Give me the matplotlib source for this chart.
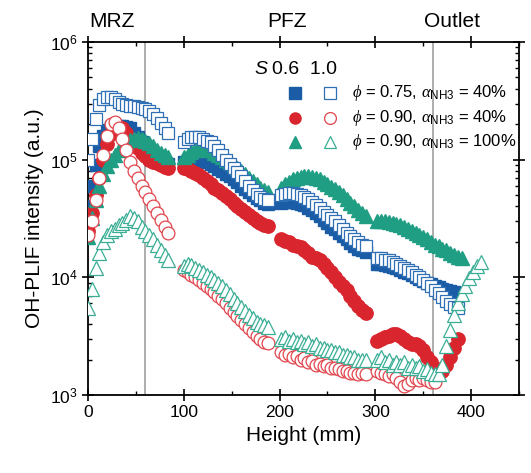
import matplotlib
matplotlib.use("Agg")
import matplotlib.pyplot as plt
from matplotlib.ticker import LogLocator, MultipleLocator, NullFormatter

plt.rcParams['font.family'] = ['Liberation Sans', 'DejaVu Sans']
plt.rcParams['mathtext.fontset'] = 'custom'
plt.rcParams['mathtext.rm'] = 'Liberation Sans'
plt.rcParams['mathtext.it'] = 'Liberation Serif:italic'

# ---------------- data (Height mm, OH-PLIF intensity a.u.) ----------------
# Segment 1 (MRZ window)
h1 = [0, 4, 8, 12, 16, 20, 24, 28, 32, 36, 40, 44, 48, 52, 56, 60, 64, 68, 72, 76, 80, 84]
b06_1 = [4.0e4, 6.0e4, 9.0e4, 1.3e5, 1.6e5, 1.8e5, 1.9e5, 1.95e5, 1.95e5, 1.95e5, 1.9e5, 1.85e5,
         1.7e5, 1.55e5, 1.4e5, 1.3e5, 1.2e5, 1.12e5, 1.05e5, 1.0e5, 9.5e4, 9.2e4]
b10_1 = [1.0e5, 1.5e5, 2.2e5, 2.9e5, 3.3e5, 3.4e5, 3.4e5, 3.3e5, 3.1e5, 2.95e5, 2.9e5, 2.85e5,
         2.85e5, 2.8e5, 2.75e5, 2.7e5, 2.6e5, 2.45e5, 2.25e5, 2.05e5, 1.85e5, 1.7e5]
r06_1 = [2.5e4, 3.5e4, 5.0e4, 7.0e4, 1.0e5, 1.35e5, 1.65e5, 1.85e5, 1.9e5, 1.85e5, 1.7e5, 1.5e5,
         1.35e5, 1.25e5, 1.15e5, 1.08e5, 1.0e5, 9.6e4, 9.3e4, 9.0e4, 8.7e4, 8.5e4]
r10_1 = [2.3e4, 3.0e4, 4.5e4, 7.0e4, 1.1e5, 1.6e5, 2.0e5, 2.1e5, 1.85e5, 1.5e5, 1.2e5, 9.5e4,
         8.0e4, 7.0e4, 6.0e4, 5.3e4, 4.6e4, 4.0e4, 3.5e4, 3.1e4, 2.7e4, 2.4e4]
g06_1 = [2.2e4, 3.2e4, 4.5e4, 6.0e4, 7.5e4, 8.8e4, 1.0e5, 1.1e5, 1.2e5, 1.3e5, 1.4e5, 1.47e5,
         1.5e5, 1.52e5, 1.5e5, 1.45e5, 1.38e5, 1.3e5, 1.22e5, 1.15e5, 1.1e5, 1.05e5]
g10_1 = [5.5e3, 8.0e3, 1.2e4, 1.6e4, 2.0e4, 2.3e4, 2.5e4, 2.6e4, 2.8e4, 2.9e4, 3.1e4, 3.3e4,
         3.2e4, 3.0e4, 2.7e4, 2.5e4, 2.3e4, 2.1e4, 1.9e4, 1.7e4, 1.55e4, 1.4e4]

# Segment 2
h2 = [100, 104, 108, 112, 116, 120, 124, 128, 132, 136, 140, 144, 148, 152, 156, 160, 164, 168, 172, 176, 180, 184, 188]
b06_2 = [9.5e4, 1.0e5, 1.0e5, 1.0e5, 1.0e5, 9.8e4, 9.5e4, 9.2e4, 8.8e4, 8.4e4, 8.0e4, 7.6e4,
         7.2e4, 6.8e4, 6.4e4, 6.0e4, 5.6e4, 5.3e4, 5.0e4, 4.7e4, 4.5e4, 4.3e4, 4.2e4]
b10_2 = [1.4e5, 1.5e5, 1.55e5, 1.55e5, 1.55e5, 1.5e5, 1.45e5, 1.4e5, 1.3e5, 1.2e5, 1.1e5, 1.0e5,
         9.2e4, 8.5e4, 7.8e4, 7.2e4, 6.6e4, 6.0e4, 5.5e4, 5.1e4, 4.8e4, 4.6e4, 4.5e4]
r06_2 = [8.5e4, 8.3e4, 8.0e4, 7.7e4, 7.4e4, 7.0e4, 6.6e4, 6.2e4, 5.8e4, 5.5e4, 5.2e4, 4.9e4,
         4.6e4, 4.3e4, 4.0e4, 3.8e4, 3.6e4, 3.4e4, 3.2e4, 3.0e4, 2.9e4, 2.8e4, 2.75e4]
r10_2 = [1.15e4, 1.1e4, 1.05e4, 1.0e4, 9.5e3, 9.0e3, 8.5e3, 8.0e3, 7.5e3, 7.0e3, 6.5e3, 6.0e3,
         5.5e3, 5.1e3, 4.7e3, 4.3e3, 4.0e3, 3.7e3, 3.4e3, 3.2e3, 3.0e3, 2.8e3, 2.75e3]
g06_2 = [1.05e5, 1.1e5, 1.17e5, 1.22e5, 1.25e5, 1.25e5, 1.22e5, 1.2e5, 1.15e5, 1.1e5, 1.05e5, 1.0e5,
         9.5e4, 9.0e4, 8.5e4, 8.0e4, 7.5e4, 7.0e4, 6.6e4, 6.2e4, 5.8e4, 5.5e4, 5.3e4]
g10_2 = [1.25e4, 1.3e4, 1.28e4, 1.2e4, 1.15e4, 1.1e4, 1.05e4, 1.0e4, 9.5e3, 9.0e3, 8.4e3, 7.8e3,
         7.2e3, 6.6e3, 6.1e3, 5.6e3, 5.2e3, 4.8e3, 4.5e3, 4.2e3, 4.0e3, 3.9e3, 3.8e3]

# Segment 3
h3 = [202, 206, 210, 214, 218, 222, 226, 230, 234, 238, 242, 246, 250, 254, 258, 262, 266, 270, 274, 278, 282, 286, 290]
b06_3 = [4.3e4, 4.4e4, 4.4e4, 4.4e4, 4.3e4, 4.2e4, 4.1e4, 3.9e4, 3.7e4, 3.5e4, 3.3e4, 3.1e4,
         2.9e4, 2.7e4, 2.55e4, 2.4e4, 2.25e4, 2.1e4, 1.95e4, 1.85e4, 1.75e4, 1.7e4, 1.65e4]
b10_3 = [5.0e4, 5.1e4, 5.2e4, 5.2e4, 5.1e4, 5.0e4, 4.8e4, 4.6e4, 4.4e4, 4.1e4, 3.9e4, 3.6e4,
         3.4e4, 3.2e4, 3.0e4, 2.8e4, 2.6e4, 2.4e4, 2.25e4, 2.1e4, 2.0e4, 1.9e4, 1.85e4]
r06_3 = [2.1e4, 2.05e4, 2.0e4, 1.9e4, 1.85e4, 1.8e4, 1.7e4, 1.6e4, 1.5e4, 1.45e4, 1.4e4, 1.3e4,
         1.2e4, 1.1e4, 1.0e4, 9.2e3, 8.5e3, 7.8e3, 7.0e3, 6.3e3, 5.7e3, 5.3e3, 5.0e3]
r10_3 = [2.3e3, 2.2e3, 2.25e3, 2.1e3, 2.15e3, 2.0e3, 2.05e3, 1.9e3, 1.95e3, 1.8e3, 1.85e3, 1.75e3,
         1.8e3, 1.7e3, 1.7e3, 1.65e3, 1.6e3, 1.6e3, 1.55e3, 1.55e3, 1.5e3, 1.55e3, 1.5e3]
g06_3 = [5.8e4, 6.2e4, 6.5e4, 6.8e4, 7.0e4, 7.1e4, 7.2e4, 7.2e4, 7.1e4, 7.0e4, 6.8e4, 6.5e4,
         6.2e4, 5.9e4, 5.6e4, 5.3e4, 5.0e4, 4.6e4, 4.3e4, 4.0e4, 3.7e4, 3.5e4, 3.3e4]
g10_3 = [3.0e3, 3.1e3, 2.9e3, 3.0e3, 2.8e3, 2.9e3, 2.7e3, 2.8e3, 2.6e3, 2.7e3, 2.5e3, 2.5e3,
         2.4e3, 2.4e3, 2.3e3, 2.3e3, 2.2e3, 2.2e3, 2.1e3, 2.1e3, 2.0e3, 2.0e3, 2.0e3]

# Segment 4
h4 = [302, 306, 310, 314, 318, 322, 326, 330, 334, 338, 342, 346, 350, 354, 358, 362, 366, 370, 374, 378, 382, 386]
b06_4 = [1.3e4, 1.3e4, 1.28e4, 1.25e4, 1.22e4, 1.2e4, 1.15e4, 1.12e4, 1.08e4, 1.05e4, 1.0e4,
         9.7e3, 9.3e3, 9.0e3, 8.7e3, 8.4e3, 8.2e3, 8.0e3, 7.8e3, 7.6e3, 7.5e3, 7.4e3]
b10_4 = [1.45e4, 1.45e4, 1.4e4, 1.4e4, 1.35e4, 1.3e4, 1.25e4, 1.2e4, 1.15e4, 1.1e4, 1.05e4,
         1.0e4, 9.5e3, 9.0e3, 8.4e3, 7.8e3, 7.3e3, 6.8e3, 6.3e3, 5.9e3, 5.6e3, 5.5e3]
r06_4 = [2.9e3, 3.0e3, 3.1e3, 3.2e3, 3.3e3, 3.3e3, 3.2e3, 3.0e3, 2.8e3, 2.7e3, 2.7e3,
         2.6e3, 2.4e3, 2.1e3, 1.9e3, 1.7e3, 1.6e3, 1.6e3, 1.8e3, 2.1e3, 2.5e3, 3.0e3]
h4r = [302, 306, 310, 314, 318, 322, 326, 330, 334, 338, 342, 346, 350, 354, 358, 362]
r10_4 = [1.6e3, 1.55e3, 1.5e3, 1.45e3, 1.5e3, 1.4e3, 1.3e3, 1.2e3, 1.25e3, 1.35e3, 1.4e3,
         1.35e3, 1.4e3, 1.35e3, 1.3e3, 1.3e3]
h4g = [302, 306, 310, 314, 318, 322, 326, 330, 334, 338, 342, 346, 350, 354, 358, 362, 366, 370,
       374, 378, 382, 386, 390]
g06_4 = [3.0e4, 3.0e4, 3.0e4, 2.95e4, 2.9e4, 2.85e4, 2.8e4, 2.7e4, 2.6e4, 2.5e4, 2.4e4, 2.3e4,
         2.2e4, 2.1e4, 2.0e4, 1.9e4, 1.85e4, 1.75e4, 1.7e4, 1.6e4, 1.55e4, 1.5e4, 1.45e4]
h4t = [302, 306, 310, 314, 318, 322, 326, 330, 334, 338, 342, 346, 350, 354, 358, 362, 366, 370,
       374, 378, 382, 386, 390, 394, 398, 402, 406, 410]
g10_4 = [2.0e3, 2.1e3, 1.9e3, 2.0e3, 1.8e3, 1.9e3, 1.8e3, 1.9e3, 1.7e3, 1.8e3, 1.7e3, 1.75e3,
         1.6e3, 1.65e3, 1.55e3, 1.5e3, 1.5e3, 1.8e3, 2.6e3, 3.6e3, 4.8e3, 6.0e3, 7.2e3, 8.4e3,
         9.8e3, 1.12e4, 1.25e4, 1.35e4]

zone_lines = [60, 360]
zone_labels = ["MRZ", "PFZ", "Outlet"]
zone_label_x = [25, 208, 380]
legend_labels = [r"$\phi$ = 0.75, $\alpha_{\mathrm{NH3}}$ = 40%",
                 r"$\phi$ = 0.90, $\alpha_{\mathrm{NH3}}$ = 40%",
                 r"$\phi$ = 0.90, $\alpha_{\mathrm{NH3}}$ = 100%"]

# ---------------- styling ----------------
BLUE = "#1b5ca6"
BLUE_O = "#2f6fb5"
RED = "#d9252d"
RED_O = "#e0444c"
GREEN = "#1f9e83"
GREEN_O = "#3aae95"

fig = plt.figure(figsize=(5.31, 4.73), dpi=100)
ax = fig.add_axes([0.1657, 0.1649, 0.9774 - 0.1657, 0.9112 - 0.1649])

msf = 9.0
mso = 8.6
segs = [(h1, b06_1, b10_1, r06_1, r10_1, g06_1, g10_1, h1, h1, h1),
        (h2, b06_2, b10_2, r06_2, r10_2, g06_2, g10_2, h2, h2, h2),
        (h3, b06_3, b10_3, r06_3, r10_3, g06_3, g10_3, h3, h3, h3),
        (h4, b06_4, b10_4, r06_4, r10_4, g06_4, g10_4, h4r, h4g, h4t)]

for h, b06, b10, r06, r10, g06, g10, hr10, hg06, hg10 in segs:
    ax.plot(h, b06, 's', ms=msf, color=BLUE, mec=BLUE, zorder=3)
    ax.plot(h, r06, 'o', ms=msf + 0.6, color=RED, mec=RED, zorder=3)
    ax.plot(hg06, g06, '^', ms=msf + 0.8, color=GREEN, mec=GREEN, zorder=3)
    ax.plot(h, b10, 's', ms=mso, mfc='white', mec=BLUE_O, mew=0.9, zorder=4)
    ax.plot(hr10, r10, 'o', ms=mso + 0.6, mfc='white', mec=RED_O, mew=0.9, zorder=4)
    ax.plot(hg10, g10, '^', ms=mso + 0.8, mfc='white', mec=GREEN_O, mew=0.9, zorder=4)

for xv in zone_lines:
    ax.axvline(xv, color='#a0a0a0', lw=1.2, zorder=2)

ax.set_yscale('log')
ax.set_xlim(0, 450)
ax.set_ylim(1e3, 1e6)
ax.xaxis.set_major_locator(MultipleLocator(100))
ax.xaxis.set_minor_locator(MultipleLocator(50))
ax.yaxis.set_major_locator(LogLocator(base=10, numticks=10))
ax.yaxis.set_minor_locator(LogLocator(base=10, subs=range(2, 10), numticks=20))
ax.yaxis.set_minor_formatter(NullFormatter())

for sp in ax.spines.values():
    sp.set_linewidth(1.3)
ax.tick_params(which='major', direction='out', length=5, width=1.2, labelsize=12.5,
               top=False, right=False)
ax.tick_params(which='minor', direction='in', length=3, width=1.0, top=True, right=True)
ax.tick_params(axis='x', which='major', top=True, direction='inout', length=8)
ax.tick_params(axis='y', which='major', right=True, direction='inout', length=8)

ax.set_xlabel("Height (mm)", fontsize=15)
ax.set_ylabel("OH-PLIF intensity (a.u.)", fontsize=15)

for lab, xv in zip(zone_labels, zone_label_x):
    ax.text(xv, 1.25e6, lab, fontsize=15, ha='center', va='bottom', clip_on=False)

# legend drawn as marker grid
ax.text(0.387, 0.921, "S", transform=ax.transAxes, fontsize=14, fontstyle='italic',
        ha='left', va='center')
ax.text(0.428, 0.921, "0.6  1.0", transform=ax.transAxes, fontsize=14,
        ha='left', va='center')
row_y = [0.855, 0.785, 0.717]
fills = [(BLUE, 's'), (RED, 'o'), (GREEN, '^')]
opens = [(BLUE_O, 's'), (RED_O, 'o'), (GREEN_O, '^')]
for yy, (fc, mk), (oc, mo), lab in zip(row_y, fills, opens, legend_labels):
    ax.plot([0.480], [yy], mk, transform=ax.transAxes, ms=8, color=fc, mec=fc, zorder=6)
    ax.plot([0.561], [yy], mo, transform=ax.transAxes, ms=8.5, mfc='white', mec=oc, mew=0.9, zorder=6)
    ax.text(0.612, yy, lab, transform=ax.transAxes, fontsize=12, ha='left', va='center', zorder=6)

fig.savefig("out.png", dpi=100)
